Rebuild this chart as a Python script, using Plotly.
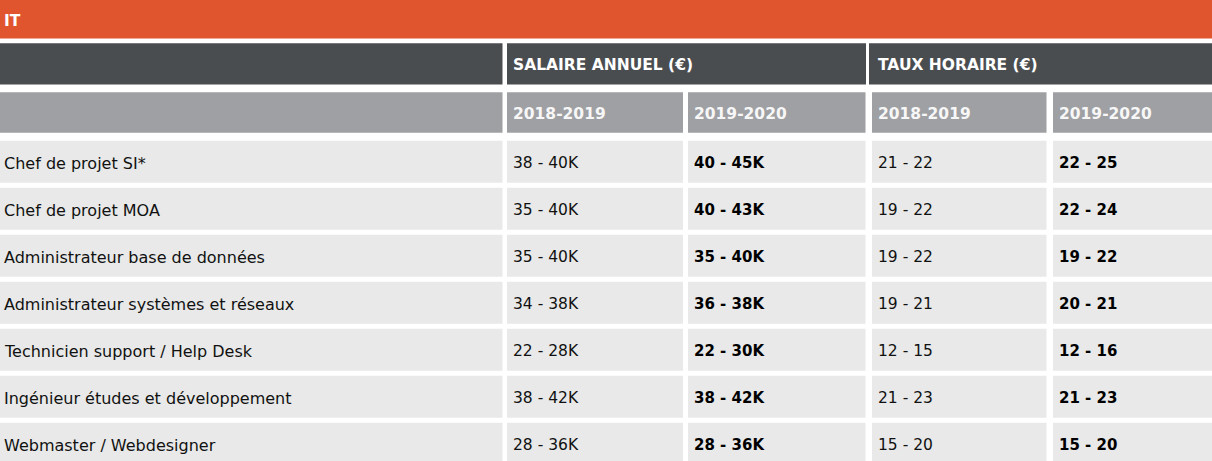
import plotly.graph_objects as go

# ---- data ----
titre = "IT"
groupes = ["SALAIRE ANNUEL (€)", "TAUX HORAIRE (€)"]
periodes = ["2018-2019", "2019-2020"]
postes = [
    "Chef de projet SI*",
    "Chef de projet MOA",
    "Administrateur base de données",
    "Administrateur systèmes et réseaux",
    "Technicien support / Help Desk",
    "Ingénieur études et développement",
    "Webmaster / Webdesigner",
]
salaire_2018_2019 = ["38 - 40K", "35 - 40K", "35 - 40K", "34 - 38K", "22 - 28K", "38 - 42K", "28 - 36K"]
salaire_2019_2020 = ["40 - 45K", "40 - 43K", "35 - 40K", "36 - 38K", "22 - 30K", "38 - 42K", "28 - 36K"]
taux_2018_2019 = ["21 - 22", "19 - 22", "19 - 22", "19 - 21", "12 - 15", "21 - 23", "15 - 20"]
taux_2019_2020 = ["22 - 25", "22 - 24", "19 - 22", "20 - 21", "12 - 16", "21 - 23", "15 - 20"]

# ---- layout constants ----
W, H = 1212, 461
ORANGE = "#E0542E"
DARK = "#4A4D50"
GRAY = "#9FA0A3"
LIGHT = "#E8E9E8"
TXT = "#111111"

col_edges = [(0, 502.5), (507, 683), (688, 865.5), (872, 1046.5), (1053, 1212)]
group_edges = [(0, 502.5), (507, 866), (869, 1212)]
group_text_x = [None, 507, 872]
row_title = (0, 38.5)
row_group = (43.3, 84.5)
row_period = (92.3, 132.7)
data_top, data_h, data_pitch = 140.7, 42.0, 47.0
pad = 5
dy = 1.5
BODY = "DejaVu Sans"
HEAD = "DejaVu Sans"

fig = go.Figure()
fig.add_trace(go.Scatter(x=[0, W], y=[0, H], mode="markers", marker=dict(opacity=0), hoverinfo="skip", showlegend=False))

shapes, annots = [], []

def rect(x0, x1, y0, y1, color):
    shapes.append(dict(type="rect", xref="x", yref="y", x0=x0, x1=x1, y0=y0, y1=y1,
                       fillcolor=color, line=dict(width=0), layer="below"))

def text(x, y, s, size, color, family, weight="normal"):
    annots.append(dict(xref="x", yref="y", x=x, y=y + dy, text=s, showarrow=False,
                       xanchor="left", yanchor="middle", borderpad=0,
                       font=dict(size=size, color=color, family=family, weight=weight)))

# title bar
rect(0, W, *row_title, ORANGE)
text(2.5, (row_title[0] + row_title[1]) / 2, titre, 15.5, "white", HEAD, "bold")

# group header row
for i, (x0, x1) in enumerate(group_edges):
    rect(x0, x1, *row_group, DARK)
    if i > 0:
        text(group_text_x[i] + pad, (row_group[0] + row_group[1]) / 2, groupes[i - 1], 15.5, "white", HEAD, "bold")

# period header row
for i, (x0, x1) in enumerate(col_edges):
    rect(x0, x1, *row_period, GRAY)
    if i > 0:
        text(x0 + pad, (row_period[0] + row_period[1]) / 2, periodes[(i - 1) % 2], 15.5, "#F7F7F7", HEAD, "bold")

# data rows
columns = [postes, salaire_2018_2019, salaire_2019_2020, taux_2018_2019, taux_2019_2020]
for r in range(len(postes)):
    y0 = data_top + r * data_pitch
    y1 = y0 + data_h
    yc = (y0 + y1) / 2
    for c, (x0, x1) in enumerate(col_edges):
        rect(x0, x1, y0, y1, LIGHT)
        val = columns[c][r]
        if c == 0:
            text(2.5, yc, val, 16, TXT, BODY)
        elif c in (2, 4):
            text(x0 + pad, yc, val, 15, "#000000", BODY, "bold")
        else:
            text(x0 + pad, yc, val, 15.5, TXT, BODY)

fig.update_layout(
    width=W, height=H,
    margin=dict(l=0, r=0, t=0, b=0),
    paper_bgcolor="white", plot_bgcolor="white",
    xaxis=dict(range=[0, W], visible=False, fixedrange=True),
    yaxis=dict(range=[H, 0], visible=False, fixedrange=True),
    shapes=shapes, annotations=annots,
    showlegend=False,
)

fig.write_html("out.html", config={"displayModeBar": False},
               post_script="document.body.style.margin='0';document.body.style.overflow='hidden';")
